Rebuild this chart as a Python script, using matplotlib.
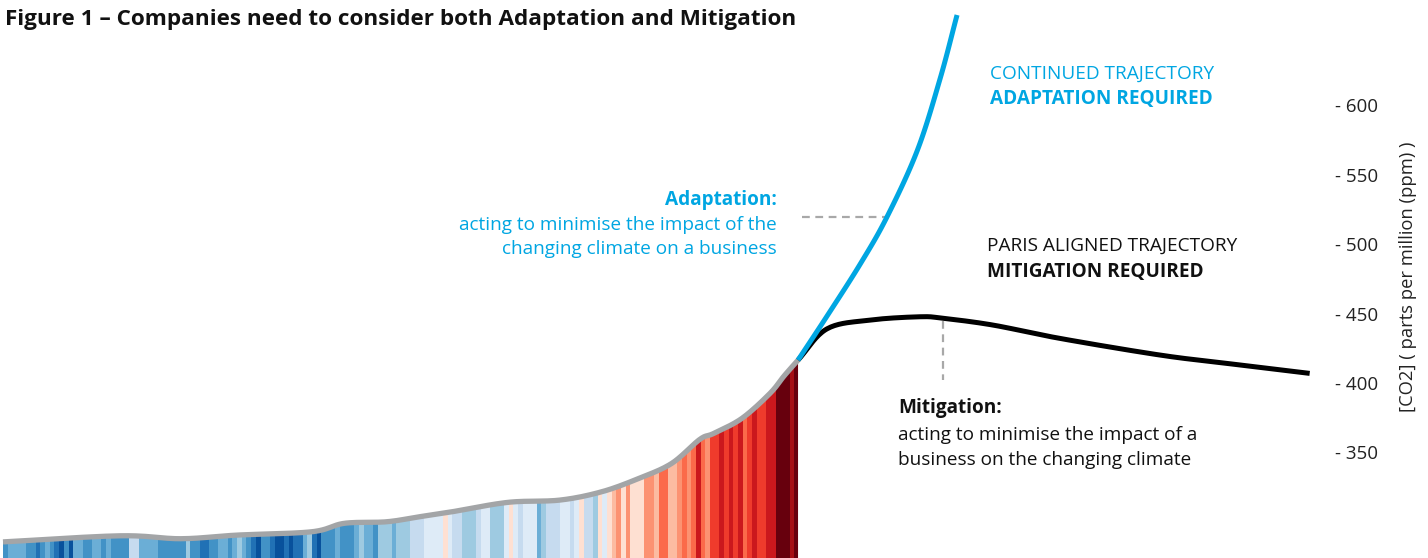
import numpy as np
import matplotlib
matplotlib.use("Agg")
import matplotlib.pyplot as plt
from matplotlib.colors import ListedColormap
import matplotlib.transforms as mtransforms

plt.rcParams['font.family'] = ['Open Sans', 'DejaVu Sans']

# historical CO2 (ppm)
hist_years = [1850, 1875, 1888, 1900, 1916, 1923, 1932, 1939, 1946, 1958, 1969,
              1978, 1986, 1993, 1999, 2002, 2008, 2014, 2017, 2020]
hist_co2 = [287.0, 291.4, 289.3, 291.9, 294.3, 300.4, 301.5, 305.1, 308.7, 315.5, 317.1,
            323.1, 332.8, 343.6, 360.9, 365.2, 376.0, 394.0, 406.5, 418.0]

# continued trajectory (blue)
cont_years = [2020, 2026.2, 2033.3, 2039.0, 2045.5, 2050.4, 2054.0]
cont_co2 = [418.0, 449.7, 487.2, 521.0, 569.0, 621.0, 666.6]

# paris aligned trajectory (black)
paris_years = [2020, 2026.2, 2035.4, 2046.1, 2051, 2061.7, 2076, 2097.4, 2111.7, 2129.4]
paris_co2 = [418.0, 440.5, 446.8, 449.2, 448.1, 443.2, 433.6, 421.6, 415.6, 408.4]

# global temperature anomaly per year 1850-2019 (stripes)
stripe_start = 1850
anomaly = [
    -0.37, -0.22, -0.23, -0.27, -0.29, -0.30, -0.32, -0.47, -0.39, -0.28,
    -0.39, -0.43, -0.54, -0.30, -0.50, -0.29, -0.26, -0.31, -0.31, -0.28,
    -0.28, -0.33, -0.24, -0.30, -0.35, -0.36, -0.36, -0.09, 0.00, -0.24,
    -0.29, -0.20, -0.25, -0.31, -0.39, -0.35, -0.31, -0.37, -0.33, -0.19,
    -0.39, -0.33, -0.40, -0.42, -0.38, -0.36, -0.21, -0.21, -0.36, -0.25,
    -0.19, -0.25, -0.36, -0.46, -0.52, -0.38, -0.31, -0.49, -0.51, -0.50,
    -0.47, -0.52, -0.46, -0.45, -0.27, -0.19, -0.40, -0.50, -0.38, -0.33,
    -0.31, -0.26, -0.36, -0.33, -0.32, -0.27, -0.14, -0.25, -0.24, -0.38,
    -0.14, -0.10, -0.16, -0.29, -0.14, -0.19, -0.15, -0.02, 0.00, -0.02,
    0.05, 0.07, 0.04, 0.07, 0.17, 0.04, -0.07, -0.06, -0.10, -0.11,
    -0.18, -0.07, 0.01, 0.08, -0.12, -0.14, -0.19, 0.05, 0.11, 0.06,
    -0.01, 0.08, 0.04, 0.08, -0.20, -0.11, -0.06, -0.02, -0.07, 0.05,
    0.03, -0.08, 0.01, 0.16, -0.07, -0.01, -0.10, 0.18, 0.07, 0.16,
    0.26, 0.32, 0.14, 0.31, 0.16, 0.12, 0.18, 0.33, 0.39, 0.27,
    0.45, 0.41, 0.22, 0.24, 0.31, 0.45, 0.34, 0.47, 0.65, 0.40,
    0.39, 0.54, 0.60, 0.61, 0.53, 0.65, 0.59, 0.61, 0.47, 0.60,
    0.68, 0.54, 0.58, 0.62, 0.67, 0.83, 0.93, 0.84, 0.76, 0.89,
]

ytick_vals = [350, 400, 450, 500, 550, 600]

stripe_colors = ['#08306b', '#08519c', '#2171b5', '#4292c6', '#6baed6', '#9ecae1',
                 '#c6dbef', '#deebf7', '#fee0d2', '#fcbba1', '#fc9272', '#fb6a4a',
                 '#ef3b2c', '#cb181d', '#a50f15', '#67000d']
blue = '#00a6e2'
grey = '#a3a5a7'
dash_grey = '#a8a8a8'


def smooth(xs, ys, steps=20):
    # catmull-rom through the read points, just for drawing
    p = np.column_stack([xs, ys]).astype(float)
    p = np.vstack([2 * p[0] - p[1], p, 2 * p[-1] - p[-2]])
    t = np.linspace(0, 1, steps, endpoint=False)[:, None]
    out = []
    for i in range(1, len(p) - 2):
        p0, p1, p2, p3 = p[i - 1], p[i], p[i + 1], p[i + 2]
        seg = 0.5 * ((2 * p1) + (-p0 + p2) * t + (2 * p0 - 5 * p1 + 4 * p2 - p3) * t ** 2
                     + (-p0 + 3 * p1 - 3 * p2 + p3) * t ** 3)
        out.append(seg)
    out.append(p[-2][None, :])
    out = np.vstack(out)
    return out[:, 0], out[:, 1]


W, H = 1428, 558
fig = plt.figure(figsize=(W / 100, H / 100), dpi=100)
ax = fig.add_axes([0, 0, 1, 1])
ax.set_xlim(1849.36, 2154.7)
ax.set_ylim(275.4, 677.4)
ax.axis('off')

hx, hy = smooth(hist_years, hist_co2)
cx, cy = smooth(cont_years, cont_co2)
px, py = smooth(paris_years, paris_co2)

# stripes clipped under the historical curve
n = len(anomaly)
img = np.array(anomaly)[np.newaxis, :]
im = ax.imshow(img, cmap=ListedColormap(stripe_colors), vmin=-0.7, vmax=0.9,
               extent=[stripe_start, stripe_start + n, 275.4, 430],
               aspect='auto', interpolation='nearest', zorder=1)
poly = ax.fill_between(hx, hy, 275.4, facecolor='none', edgecolor='none')
im.set_clip_path(poly.get_paths()[0], transform=ax.transData)

ax.plot(hx, hy, color=grey, lw=3.8, solid_capstyle='butt', zorder=3)
ax.plot(cx, cy, color=blue, lw=3.6, solid_capstyle='butt', zorder=4)
ax.plot(px, py, color='black', lw=3.6, solid_capstyle='butt', zorder=3)

# dashed connectors
adapt_y = 520.8
ax.plot([2020.8, np.interp(adapt_y, cy, cx)], [adapt_y, adapt_y],
        color=dash_grey, lw=1.6, dashes=(3.5, 2.5), zorder=2)
mit_x = 2051.1
ax.plot([mit_x, mit_x], [np.interp(mit_x, px, py) - 2, 403.6],
        color=dash_grey, lw=1.6, dashes=(3.5, 2.5), zorder=2)

# right hand axis labels
trans = mtransforms.blended_transform_factory(ax.transAxes, ax.transData)
for v in ytick_vals:
    ax.text(1335 / W, v, f"- {v}", transform=trans, ha='left', va='center',
            fontsize=13.5, color='#222222')
fig.text(1408 / W, 1 - 277 / H, "[CO2] ( parts per million (ppm) )", rotation=90,
         ha='center', va='center', fontsize=13.2, color='#222222')


def ftext(x, y, s, **kw):
    fig.text(x / W, 1 - y / H, s, va='center', **kw)


fs = 13.7
ftext(5, 20, "Figure 1 \u2013 Companies need to consider both Adaptation and Mitigation",
      fontsize=16.2, fontweight='bold', color='#111111', ha='left')

ftext(777, 200, "Adaptation:", fontsize=fs, fontweight='bold', color=blue, ha='right')
ftext(777, 225, "acting to minimise the impact of the", fontsize=fs, color=blue, ha='right')
ftext(777, 249, "changing climate on a business", fontsize=fs, color=blue, ha='right')

ftext(990, 74, "CONTINUED TRAJECTORY", fontsize=fs, color=blue, ha='left')
ftext(990, 99, "ADAPTATION REQUIRED", fontsize=fs, fontweight='bold', color=blue, ha='left')

ftext(987, 246, "PARIS ALIGNED TRAJECTORY", fontsize=fs, color='#111111', ha='left')
ftext(987, 272, "MITIGATION REQUIRED", fontsize=fs, fontweight='bold', color='#111111', ha='left')

ftext(898, 408, "Mitigation:", fontsize=fs, fontweight='bold', color='#111111', ha='left')
ftext(898, 435, "acting to minimise the impact of a", fontsize=fs, color='#111111', ha='left')
ftext(898, 460, "business on the changing climate", fontsize=fs, color='#111111', ha='left')

fig.savefig("out.png", dpi=100)
